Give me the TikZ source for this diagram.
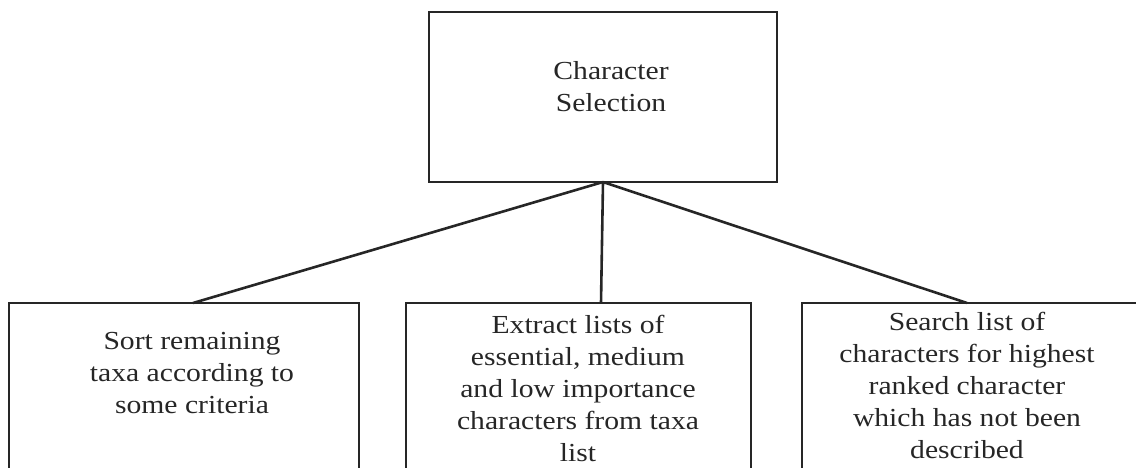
\documentclass[tikz,border=0pt]{standalone}
\usepackage{fontspec}
\setmainfont{Liberation Serif}[FakeStretch=1.14]
\usetikzlibrary{positioning,calc}

\begin{document}
\begin{tikzpicture}[
    x=0.5pt, y=-0.5pt,
    task/.style={rectangle, draw=black!85, line width=1.3pt, inner sep=0pt, outer sep=0pt, anchor=north west},
    txt/.style={align=center, inner sep=0pt, text=black!85, font=\fontsize{13}{16}\selectfont},
    link/.style={draw=black!85, line width=1.3pt}
]
    \useasboundingbox (0,0) rectangle (1136,467);
    \clip (0,0) rectangle (1136,467);

    % Boxes
    \node[task, minimum width=174pt, minimum height=85pt] (select) at (429,12) {};
    \node[task, minimum width=175pt, minimum height=90pt] (sort) at (9,303) {};
    \node[task, minimum width=172.5pt, minimum height=90pt] (extract) at (406,303) {};
    \node[task, minimum width=169pt, minimum height=90pt] (search) at (802,303) {};

    % Texts
    \node[txt] (selecttxt) at (611,87) {Character\\Selection};
    \node[txt] (sorttxt) at (192,373) {Sort remaining\\taxa according to\\some criteria};
    \node[txt] (extracttxt) at (578,388) {Extract lists of\\essential, medium\\and low importance\\characters from taxa\\list};
    \node[txt] (searchtxt) at (967,385) {Search list of\\characters for highest\\ranked character\\which has not been\\described};

    % Links
    \draw[link] (select.south) -- ([xshift=4.5pt]sort.north);
    \draw[link] (select.south) -- ([xshift=11.25pt]extract.north);
    \draw[link] (select.south) -- ([xshift=-2pt]search.north);
\end{tikzpicture}
\end{document}
